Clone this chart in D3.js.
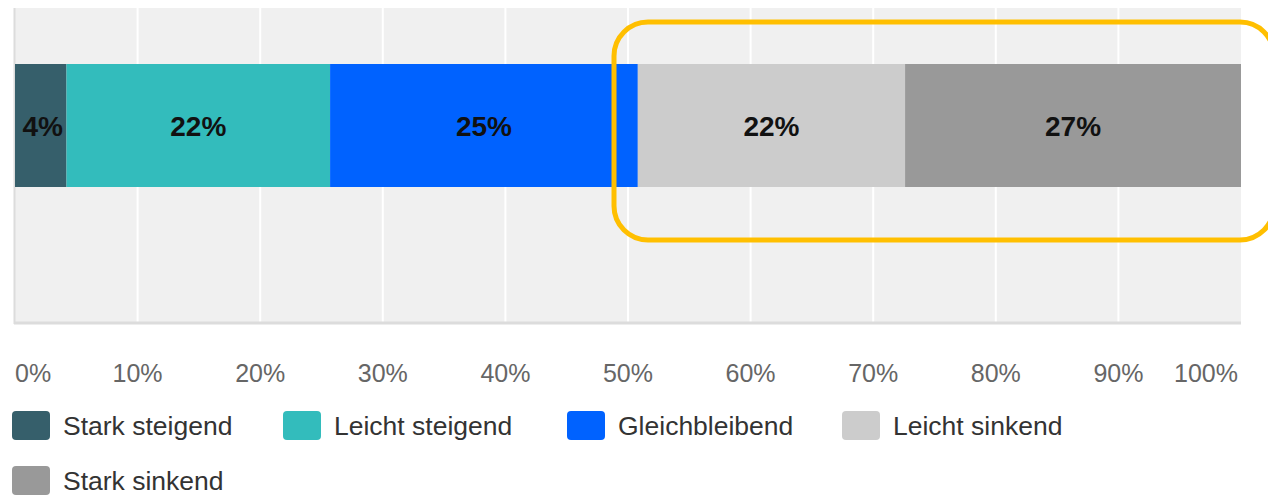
<!DOCTYPE html>
<html>
<head>
<meta charset="utf-8">
<script src="https://cdn.jsdelivr.net/npm/d3@7"></script>
<style>
  html, body { margin: 0; padding: 0; background: #ffffff; }
  svg { display: block; }
</style>
</head>
<body>
<svg id="chart" width="1268" height="497"></svg>
<script>
// ---- data ----
const categories = ["Stark steigend", "Leicht steigend", "Gleichbleibend", "Leicht sinkend", "Stark sinkend"];
const values = [4.2, 21.5, 25.1, 21.8, 27.4];
const colors = ["#365f6b", "#33bcbc", "#0062ff", "#cccccc", "#999999"];
const tickValues = [0, 10, 20, 30, 40, 50, 60, 70, 80, 90, 100];
const tickLabels = ["0%", "10%", "20%", "30%", "40%", "50%", "60%", "70%", "80%", "90%", "100%"];

const FONT = "'Liberation Sans', Arial, Helvetica, sans-serif";
const svg = d3.select("#chart");

const plot = { left: 15, right: 1241, top: 8, bottom: 322 };
const x = d3.scaleLinear().domain([0, 100]).range([plot.left, plot.right]);

// background
svg.append("rect")
  .attr("x", plot.left).attr("y", plot.top)
  .attr("width", plot.right - plot.left).attr("height", plot.bottom - plot.top)
  .attr("fill", "#f0f0f0");

// gridlines
svg.append("g").selectAll("line")
  .data(tickValues.slice(1, -1))
  .join("line")
  .attr("x1", d => x(d)).attr("x2", d => x(d))
  .attr("y1", plot.top).attr("y2", plot.bottom)
  .attr("stroke", "#ffffff").attr("stroke-width", 2);

// left border and bottom axis line
svg.append("line")
  .attr("x1", plot.left - 0.5).attr("x2", plot.left - 0.5)
  .attr("y1", plot.top).attr("y2", plot.bottom + 2)
  .attr("stroke", "#dcdcdc").attr("stroke-width", 2);
svg.append("line")
  .attr("x1", plot.left - 1).attr("x2", plot.right)
  .attr("y1", plot.bottom + 1).attr("y2", plot.bottom + 1)
  .attr("stroke", "#dcdcdc").attr("stroke-width", 3);

// stacked segments
let acc = 0;
const segs = values.map((v, i) => { const s = { i, v, x0: acc, x1: acc + v }; acc += v; return s; });
const barY = 64, barH = 123;

svg.append("g").selectAll("rect")
  .data(segs)
  .join("rect")
  .attr("x", d => x(d.x0))
  .attr("width", d => x(d.x1) - x(d.x0))
  .attr("y", barY)
  .attr("height", barH)
  .attr("fill", d => colors[d.i]);

svg.append("g").selectAll("text")
  .data(segs)
  .join("text")
  .attr("x", d => (x(d.x0) + x(d.x1)) / 2 + (d.i === 0 ? 2 : 0))
  .attr("y", barY + barH / 2 + 1)
  .attr("dy", "0.35em")
  .attr("text-anchor", "middle")
  .attr("font-family", FONT)
  .attr("font-weight", "bold")
  .attr("font-size", 28)
  .attr("fill", "#111111")
  .text(d => Math.round(d.v) + "%");

// axis tick labels
svg.append("g").selectAll("text")
  .data(tickValues)
  .join("text")
  .attr("x", (d, i) => i === 0 ? x(d) : (i === tickValues.length - 1 ? x(d) - 3 : x(d)))
  .attr("y", 382)
  .attr("text-anchor", (d, i) => i === 0 ? "start" : (i === tickValues.length - 1 ? "end" : "middle"))
  .attr("font-family", FONT)
  .attr("font-size", 25)
  .attr("fill", "#666666")
  .text((d, i) => tickLabels[i]);

// legend
const legendPos = [[12, 411], [283, 411], [567, 411], [842, 411], [12, 466]];
const lg = svg.append("g").selectAll("g")
  .data(categories)
  .join("g")
  .attr("transform", (d, i) => `translate(${legendPos[i][0]},${legendPos[i][1]})`);
lg.append("rect")
  .attr("width", 38).attr("height", 29).attr("rx", 4)
  .attr("fill", (d, i) => colors[i]);
lg.append("text")
  .attr("x", 51).attr("y", 24)
  .attr("font-family", FONT)
  .attr("font-size", 26.5)
  .attr("fill", "#333333")
  .text(d => d);

// highlight frame
svg.append("rect")
  .attr("x", 614).attr("y", 22)
  .attr("width", 660).attr("height", 218)
  .attr("rx", 34).attr("ry", 34)
  .attr("fill", "none")
  .attr("stroke", "#ffbf00")
  .attr("stroke-width", 5);
</script>
</body>
</html>
